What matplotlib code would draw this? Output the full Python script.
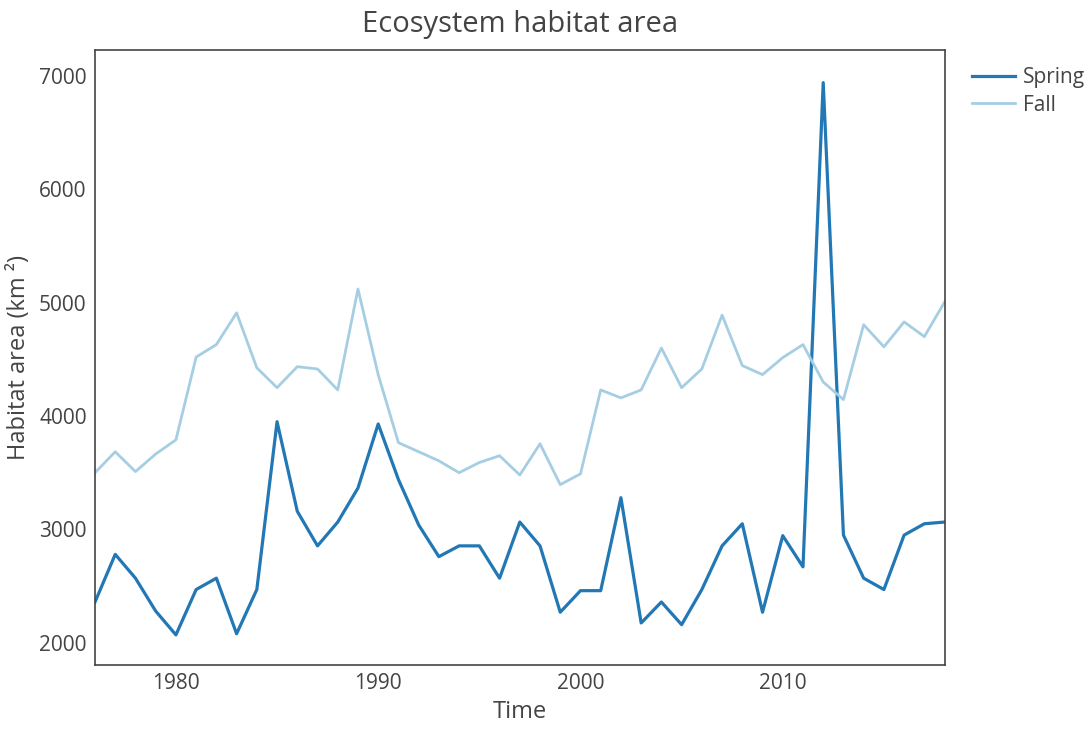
import matplotlib
matplotlib.use("Agg")
import matplotlib.pyplot as plt

years = list(range(1976, 2019))
spring = [2360, 2780, 2570, 2280, 2070, 2470, 2570, 2080, 2470, 3950,
          3160, 2855, 3065, 3365, 3930, 3440, 3040, 2760, 2855, 2855,
          2570, 3065, 2855, 2270, 2460, 2460, 3280, 2175, 2360, 2160,
          2470, 2855, 3050, 2270, 2945, 2670, 6940, 2950, 2570, 2470,
          2950, 3050, 3065]
fall = [3500, 3685, 3510, 3665, 3790, 4520, 4630, 4910, 4425, 4250,
        4435, 4415, 4230, 5120, 4365, 3765, 3685, 3605, 3500, 3590,
        3650, 3480, 3755, 3395, 3490, 4230, 4160, 4230, 4600, 4250,
        4415, 4890, 4445, 4365, 4515, 4630, 4300, 4145, 4805, 4610,
        4830, 4700, 5005]
series_names = ["Spring", "Fall"]
xticks = [1980, 1990, 2000, 2010]
yticks = [2000, 3000, 4000, 5000, 6000, 7000]

plt.rcParams['font.family'] = ['Open Sans', 'DejaVu Sans']
fig = plt.figure(figsize=(10.92, 7.33), dpi=100)
ax = fig.add_axes([0.087, 0.093, 0.778, 0.839])

ax.plot(years, spring, color="#2277b5", lw=2.3, label=series_names[0])
ax.plot(years, fall, color="#a6cee3", lw=2.0, label=series_names[1])

ax.set_xlim(1976, 2018)
ax.set_ylim(1806, 7229)
ax.set_xticks(xticks)
ax.set_yticks(yticks)
ax.tick_params(length=0, labelsize=15, labelcolor="#444444", pad=6)
for s in ax.spines.values():
    s.set_color("#444444")
    s.set_linewidth(1.2)

ax.set_title("Ecosystem habitat area", fontsize=21, color="#444444", pad=13)
ax.set_xlabel("Time", fontsize=17, color="#444444", labelpad=4)
ax.set_ylabel("Habitat area (km \u00b2)", fontsize=17, color="#444444", labelpad=6)

leg = ax.legend(loc="upper left", bbox_to_anchor=(1.022, 0.985), frameon=False,
                fontsize=15, handlelength=2.1, handletextpad=0.35,
                labelcolor="#444444", borderaxespad=0.0, labelspacing=0.3)

fig.savefig("out.png", dpi=100, facecolor="white")
